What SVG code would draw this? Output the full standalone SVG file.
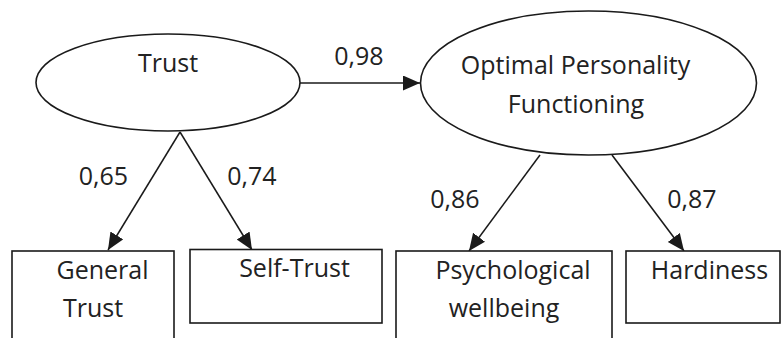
<svg xmlns="http://www.w3.org/2000/svg" width="781" height="338" viewBox="0 0 781 338">
<style>
text{font-family:"Open Sans","Noto Sans",sans-serif;font-size:25px;fill:#222;text-anchor:middle}
.s{fill:#fff;stroke:#1a1a1a;stroke-width:1.6}
.c{stroke:#1a1a1a;stroke-width:1.5;fill:none}
</style>
<defs>
<marker id="ah" markerUnits="userSpaceOnUse" markerWidth="18" markerHeight="16" refX="17" refY="7.5" orient="auto">
<path d="M0,0 L17,7.5 L0,15 Z" fill="#1a1a1a"/>
</marker>
</defs>
<rect width="781" height="338" fill="#fff"/>
<g id="connectors">
<line class="c" x1="300" y1="83" x2="420" y2="83" marker-end="url(#ah)"/>
<line class="c" x1="180" y1="132" x2="108" y2="250" marker-end="url(#ah)"/>
<line class="c" x1="180" y1="132" x2="252" y2="250" marker-end="url(#ah)"/>
<line class="c" x1="540" y1="155" x2="469" y2="251" marker-end="url(#ah)"/>
<line class="c" x1="612" y1="155" x2="684" y2="251" marker-end="url(#ah)"/>
<text x="359" y="65">0,98</text>
<text x="103.5" y="185">0,65</text>
<text x="252" y="185">0,74</text>
<text x="455" y="208">0,86</text>
<text x="692" y="208">0,87</text>
</g>
<g id="trust">
<ellipse class="s" cx="168" cy="82.5" rx="132" ry="48.5"/>
<text x="168" y="72">Trust</text>
</g>
<g id="opf">
<ellipse class="s" cx="588.5" cy="83" rx="168" ry="72"/>
<text x="575.5" y="74">Optimal Personality</text>
<text x="576" y="113">Functioning</text>
</g>
<g id="general-trust">
<rect class="s" x="12" y="251" width="162" height="100"/>
<text x="102.5" y="279">General</text>
<text x="93" y="317">Trust</text>
</g>
<g id="self-trust">
<rect class="s" x="190" y="249.5" width="192" height="73.5"/>
<text x="294.5" y="277">Self-Trust</text>
</g>
<g id="psychological-wellbeing">
<rect class="s" x="396" y="251" width="216" height="100"/>
<text x="513" y="279">Psychological</text>
<text x="504" y="317">wellbeing</text>
</g>
<g id="hardiness">
<rect class="s" x="626" y="251" width="154" height="72"/>
<text x="709.5" y="279">Hardiness</text>
</g>
</svg>
